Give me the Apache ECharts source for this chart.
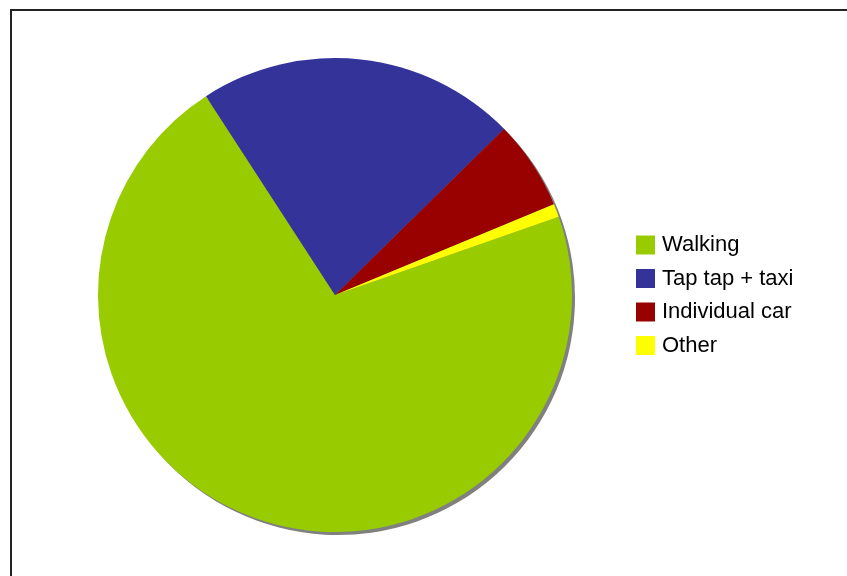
<!DOCTYPE html>
<html>
<head>
<meta charset="utf-8">
<script src="https://cdn.jsdelivr.net/npm/echarts@6/dist/echarts.min.js"></script>
<style>
  html, body { margin: 0; padding: 0; background: #fff; }
  #chart { width: 847px; height: 576px; }
</style>
</head>
<body>
<div id="chart"></div>
<script>
// travel modes (share in %)
const categories = ['Walking', 'Tap tap + taxi', 'Individual car', 'Other'];
const shares = [71.2, 21.8, 6.1, 0.9];
const colors = ['#99cc00', '#333399', '#990000', '#ffff00'];

const chart = echarts.init(document.getElementById('chart'));

const pieData = categories.map((name, i) => ({
  name: name,
  value: shares[i],
  itemStyle: { color: colors[i] }
}));

const option = {
  animation: false,
  backgroundColor: '#fff',
  graphic: [{
    type: 'rect',
    shape: { x: 11, y: 10, width: 900, height: 700 },
    style: { fill: 'none', stroke: '#222', lineWidth: 2 },
    z: 10
  }],
  legend: {
    orient: 'vertical',
    left: 631,
    top: 229,
    itemWidth: 19,
    itemHeight: 19,
    itemGap: 11.5,
    icon: 'rect',
    textStyle: {
      fontFamily: 'Liberation Sans, Arial, sans-serif',
      fontSize: 22,
      lineHeight: 19,
      color: '#000',
      padding: [0, 0, 0, 2]
    },
    data: categories
  },
  series: [
    {
      // flat gray shadow behind the pie
      type: 'pie',
      silent: true,
      center: [338, 298],
      radius: [0, 237],
      startAngle: 19.3,
      label: { show: false },
      labelLine: { show: false },
      itemStyle: { color: '#808080' },
      data: [{ name: '', value: shares.reduce((a, b) => a + b, 0) }],
      z: 1
    },
    {
      type: 'pie',
      center: [335, 295],
      radius: [0, 237],
      startAngle: 19.3,
      clockwise: true,
      label: { show: false },
      labelLine: { show: false },
      emphasis: { disabled: true },
      itemStyle: { borderWidth: 0 },
      data: pieData,
      z: 2
    }
  ]
};

chart.setOption(option);
</script>
</body>
</html>
